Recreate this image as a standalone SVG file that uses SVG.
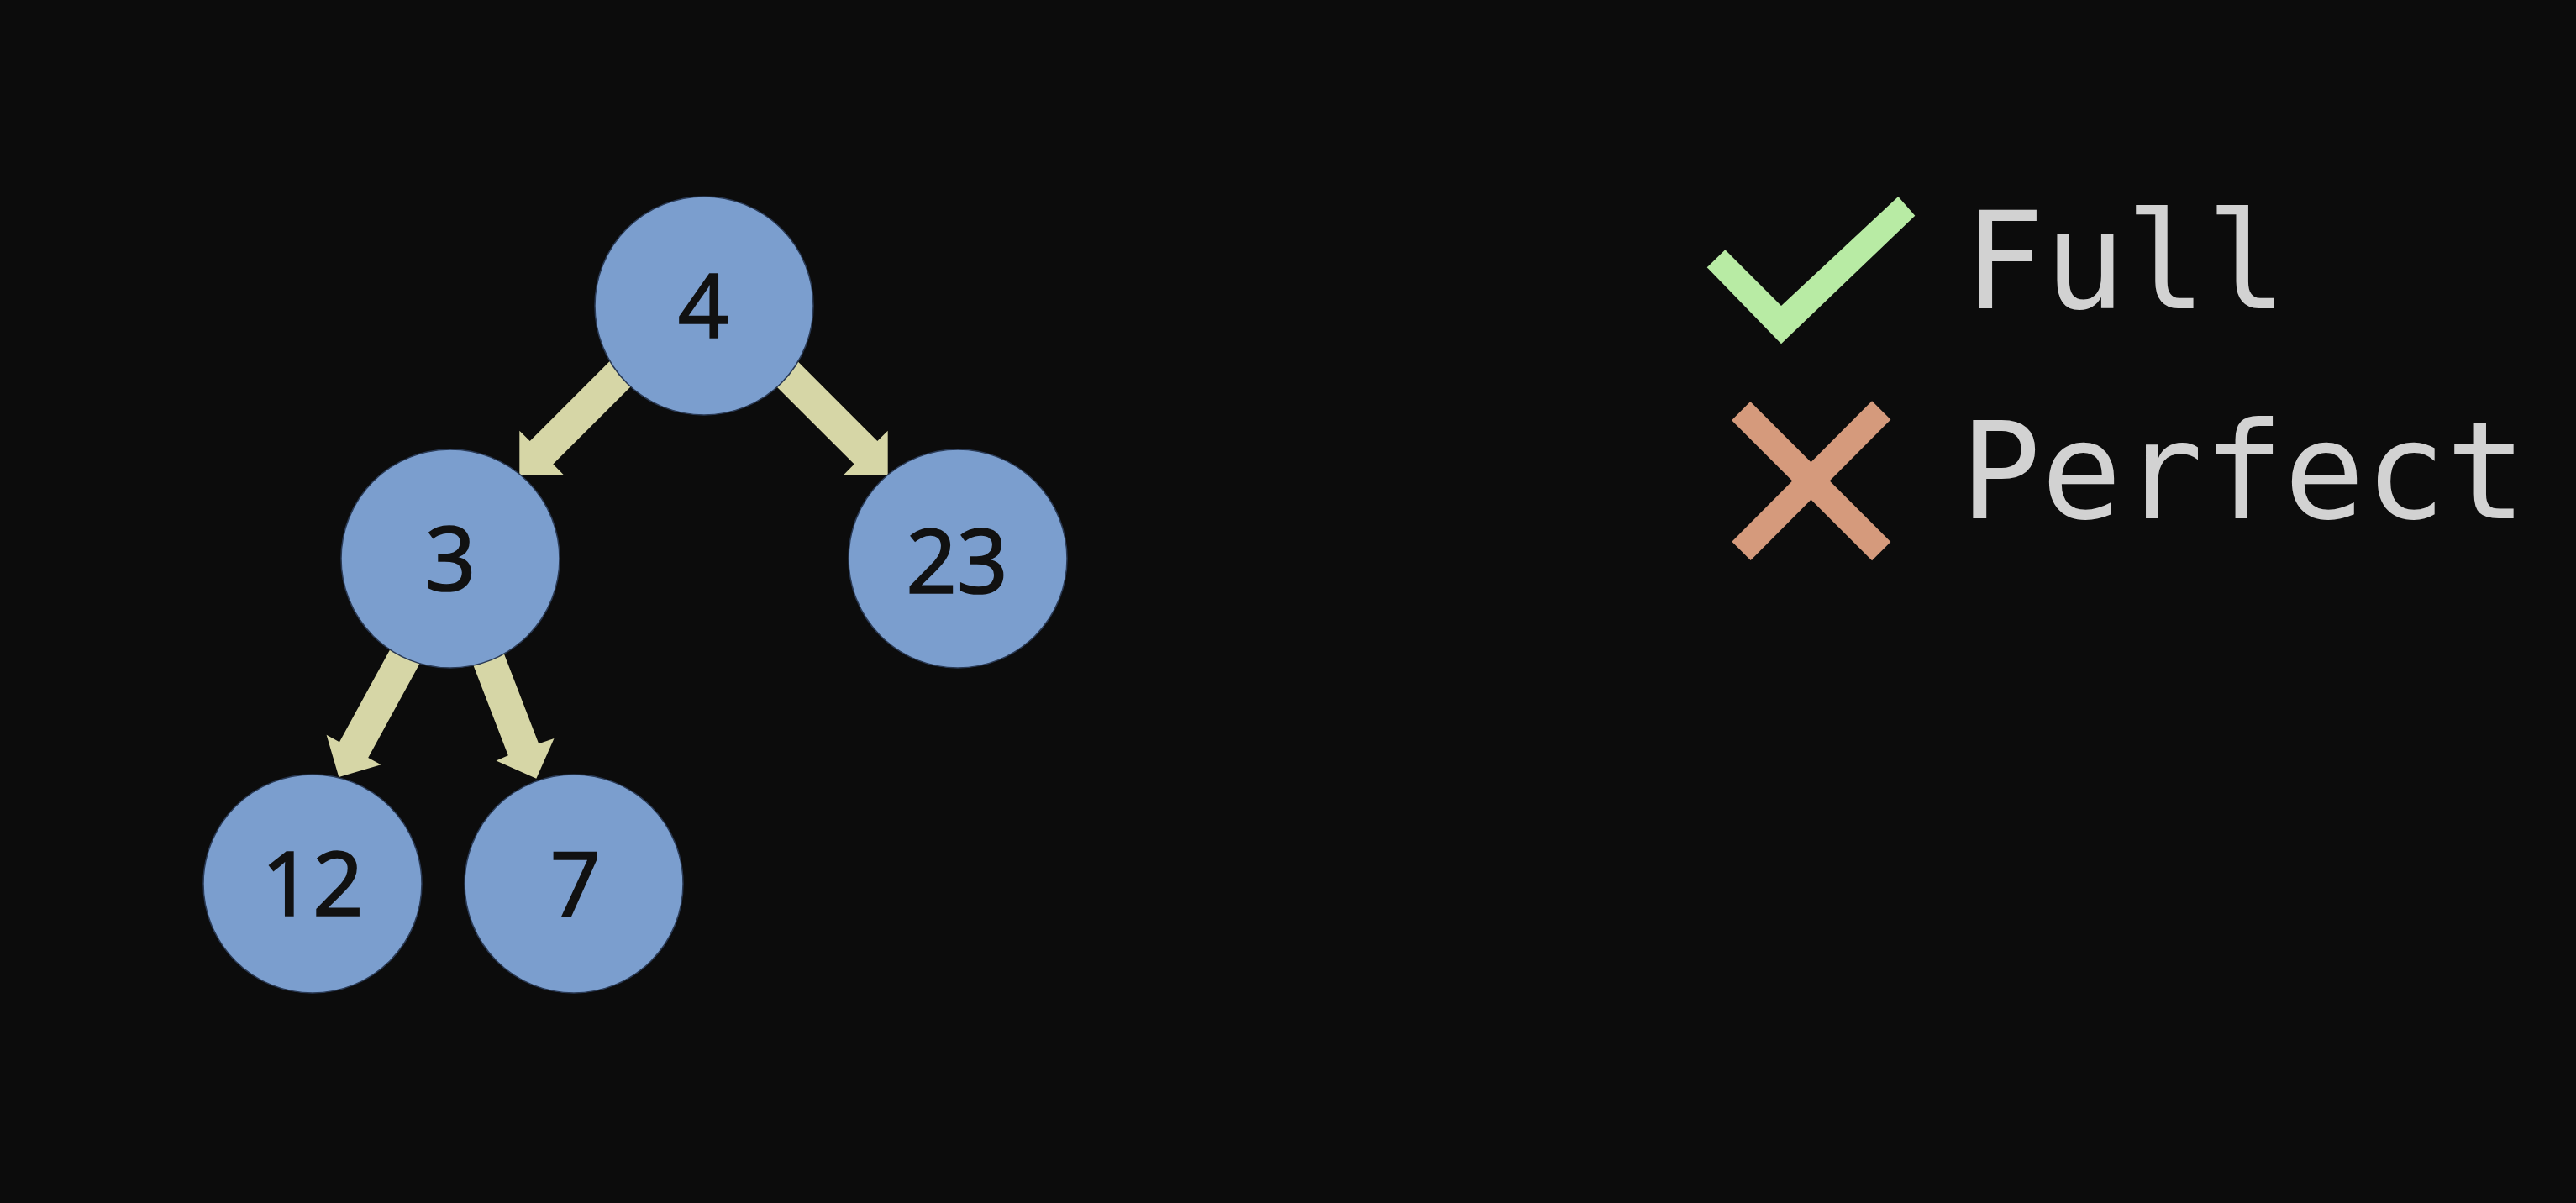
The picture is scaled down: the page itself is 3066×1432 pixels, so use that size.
<svg xmlns="http://www.w3.org/2000/svg" width="3066" height="1432" viewBox="0 0 3066 1432">
<defs>
<style>
.node circle { fill: #7B9ECE; stroke: #2a3a55; stroke-width: 1.5; }
.node text { font-family: "Noto Sans", "Open Sans", "Liberation Sans", sans-serif; font-size: 106px; fill: #111111; stroke: #111111; stroke-width: 1.6; text-anchor: middle; }
.edge { fill: #D6D6A6; }
.label { font-family: "DejaVu Sans Mono", "Liberation Mono", monospace; font-size: 160px; fill: #D2D2D2; }
</style>
</defs>
<rect x="0" y="0" width="3066" height="1432" fill="#0C0C0C"/>
<g id="connectors">
<polygon class="edge" points="778.5,432.4 658.3,552.6 670.6,565.0 618.3,565 618.3,512.7 630.7,525.1 750.9,404.8"/>
<polygon class="edge" points="896.5,432.4 1016.7,552.6 1004.4,565.0 1056.7,565 1056.7,512.7 1044.3,525.1 924.1,404.8"/>
<polygon class="edge" points="548.6,700.2 438.2,901.9 453.5,910.3 403.3,925 388.6,874.8 404.0,883.2 514.4,681.5"/>
<polygon class="edge" points="560.2,675.3 641.2,885.2 659.5,878.9 638.3,926.7 590.5,905.5 604.8,899.2 523.8,689.3"/>
</g>
<g id="node-4" class="node"><circle cx="838" cy="364" r="130"/><text x="837" y="402">4</text></g>
<g id="node-3" class="node"><circle cx="536" cy="665" r="130"/><text x="536" y="703">3</text></g>
<g id="node-23" class="node"><circle cx="1140" cy="665" r="130"/><text x="1139" y="706">23</text></g>
<g id="node-12" class="node"><circle cx="372" cy="1052" r="130"/><text x="372" y="1090">12</text></g>
<g id="node-7" class="node"><circle cx="683" cy="1052" r="130"/><text x="685" y="1090">7</text></g>
<g id="legend-full">
<polygon points="2031.7,318.3 2053.3,297.3 2120,364 2259.3,234 2279.3,256.7 2120,409.3" fill="#B8EBA4"/>
<text class="label" x="2337" y="367">Full</text>
</g>
<g id="legend-perfect">
<g stroke="#D59A7C" stroke-width="31.5">
<line x1="2072.2" y1="489.2" x2="2239.2" y2="656.2"/>
<line x1="2239.2" y1="488.3" x2="2072.5" y2="655.8"/>
</g>
<text class="label" x="2333" y="617">Perfect</text>
</g>
</svg>
